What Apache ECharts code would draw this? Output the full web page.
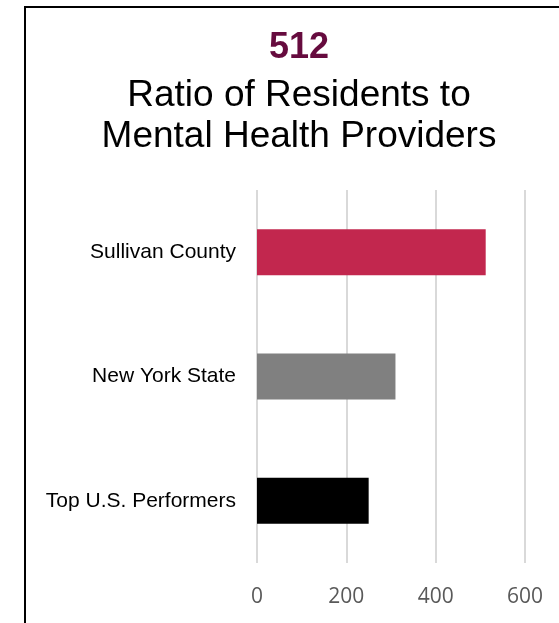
<!DOCTYPE html>
<html>
<head>
<meta charset="utf-8">
<script src="https://cdn.jsdelivr.net/npm/echarts@6/dist/echarts.min.js"></script>
<style>
html,body{margin:0;padding:0;background:#fff;}
#chart{width:559px;height:623px;}
</style>
</head>
<body>
<div id="chart"></div>
<script>
var headline = '512';
var titleLines = ['Ratio of Residents to', 'Mental Health Providers'];
var categories = ['Sullivan County', 'New York State', 'Top U.S. Performers'];
var values = [512, 310, 250];
var barColors = ['#C2274E', '#808080', '#000000'];
var xTicks = [0, 200, 400, 600];

var chart = echarts.init(document.getElementById('chart'));
chart.setOption({
  backgroundColor: '#ffffff',
  animation: false,
  graphic: [
    {type: 'rect', shape: {x: 25, y: 7, width: 700, height: 800}, style: {fill: 'none', stroke: '#000', lineWidth: 2}, silent: true},
    {type: 'text', style: {x: 299, y: 48, text: headline, align: 'center', verticalAlign: 'middle', fontFamily: 'Liberation Sans, Arial', fontWeight: 'bold', fontSize: 36, fill: '#660B3E'}},
    {type: 'text', style: {x: 299, y: 96, text: titleLines[0], align: 'center', verticalAlign: 'middle', fontFamily: 'Liberation Sans, Arial', fontSize: 37, fill: '#000'}},
    {type: 'text', style: {x: 299, y: 137, text: titleLines[1], align: 'center', verticalAlign: 'middle', fontFamily: 'Liberation Sans, Arial', fontSize: 37, fill: '#000'}}
  ],
  grid: {left: 257, right: 34, top: 190, bottom: 60, containLabel: false},
  xAxis: {
    type: 'value', min: xTicks[0], max: xTicks[xTicks.length - 1], interval: 200,
    axisLine: {show: false}, axisTick: {show: false},
    splitLine: {show: true, lineStyle: {color: '#d9d9d9', width: 2}},
    axisLabel: {color: '#595959', fontSize: 21, fontFamily: 'Open Sans', margin: 24}
  },
  yAxis: {
    type: 'category', data: categories, inverse: true,
    axisLine: {show: false}, axisTick: {show: false},
    axisLabel: {color: '#000', fontSize: 21, fontFamily: 'Liberation Sans, Arial', margin: 21}
  },
  series: [{
    type: 'bar', barWidth: 46,
    data: values.map(function (v, i) { return {value: v, itemStyle: {color: barColors[i]}}; })
  }]
});
</script>
</body>
</html>
